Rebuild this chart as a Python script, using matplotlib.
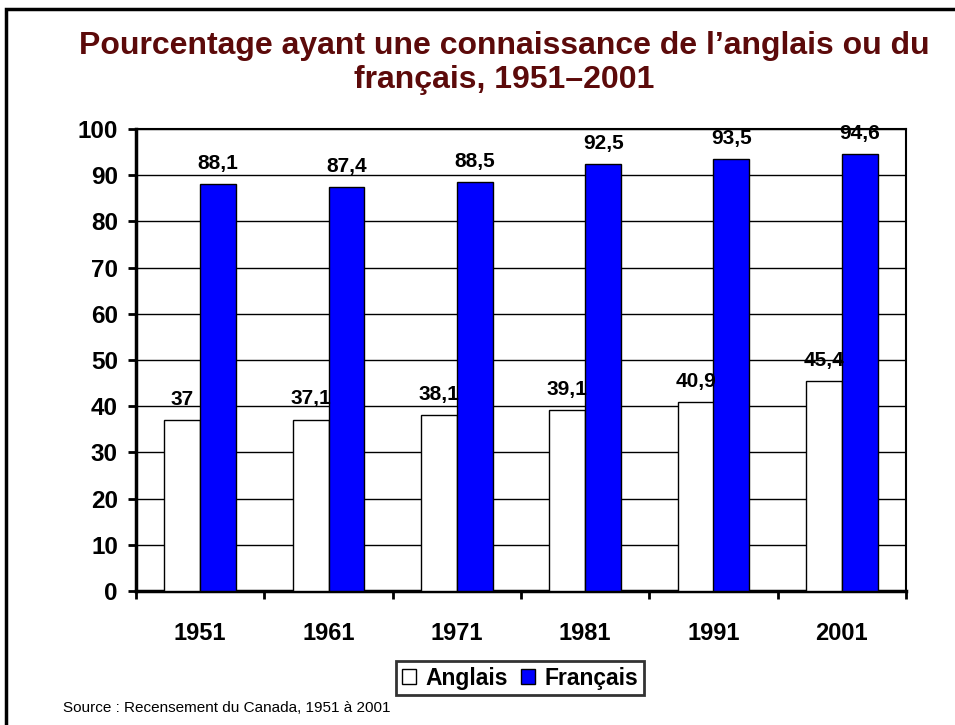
import matplotlib
matplotlib.use("Agg")
import matplotlib.pyplot as plt
import numpy as np
from matplotlib.patches import Rectangle

years = ["1951", "1961", "1971", "1981", "1991", "2001"]
anglais = [37, 37.1, 38.1, 39.1, 40.9, 45.4]
francais = [88.1, 87.4, 88.5, 92.5, 93.5, 94.6]
series_names = ["Anglais", "Français"]
yticks = [0, 10, 20, 30, 40, 50, 60, 70, 80, 90, 100]

def fmt(v):
    s = f"{v:g}"
    return s.replace(".", ",")

plt.rcParams['font.family'] = ['Liberation Sans', 'DejaVu Sans']

fig = plt.figure(figsize=(9.55, 7.25), dpi=100)
W, H = 955, 725
ax = fig.add_axes([136 / W, 1 - 591 / H, (906 - 136) / W, (591 - 129) / H])

x = np.arange(len(years))
bw = 0.28
b1 = ax.bar(x - bw / 2, anglais, bw, color="white", edgecolor="black", linewidth=1, label=series_names[0], zorder=3)
b2 = ax.bar(x + bw / 2, francais, bw, color="#0000FF", edgecolor="black", linewidth=1, label=series_names[1], zorder=3)

for bars, vals in ((b1, anglais), (b2, francais)):
    for r, v in zip(bars, vals):
        ax.annotate(fmt(v), (r.get_x() + r.get_width() / 2, v), xytext=(0, 8),
                    textcoords="offset points", ha="center", va="bottom",
                    fontsize=15, fontweight="bold", zorder=5, annotation_clip=False)

ax.set_xlim(-0.5, len(years) - 0.5)
ax.set_ylim(0, 100)
ax.set_yticks(yticks)
ax.set_yticklabels([str(t) for t in yticks], fontsize=17.5, fontweight="bold")
ax.yaxis.grid(True, color="black", linewidth=1, zorder=0)
ax.set_axisbelow(True)

ax.set_xticks(x)
ax.set_xticklabels(years, fontsize=17, fontweight="bold")
ax.tick_params(axis="x", length=0, pad=22)
ax.set_xticks(np.arange(-0.5, len(years)), minor=True)
ax.tick_params(axis="x", which="minor", length=6, width=2, direction="out")
ax.tick_params(axis="y", length=6, width=2, direction="out", pad=7)
for sp in ax.spines.values():
    sp.set_linewidth(1.5)
ax.spines["left"].set_linewidth(2.5)
ax.spines["bottom"].set_linewidth(2.5)

fig.text(504 / W, 1 - 63 / H, "Pourcentage ayant une connaissance de l’anglais ou du\nfrançais, 1951–2001",
         ha="center", va="center", fontsize=23, fontweight="bold", color="#5C0A0A", linespacing=1.15)

leg = fig.legend(handles=[b1, b2], labels=series_names, loc="center", bbox_to_anchor=(520 / W, 1 - 678 / H),
                 ncol=2, frameon=True, fancybox=False, prop={"size": 16.5, "weight": "bold"},
                 handlelength=0.6, handleheight=0.6, handletextpad=0.4, columnspacing=0.6,
                 borderpad=0.25, borderaxespad=0)
leg.get_frame().set_edgecolor("black")
leg.get_frame().set_linewidth(2)

fig.text(63 / W, 1 - 708 / H, "Source : Recensement du Canada, 1951 à 2001", ha="left", va="center", fontsize=11)

fig.patches.append(Rectangle((5.5 / W, -0.1), 1.2, (1 - 9.5 / H) + 0.1, transform=fig.transFigure,
                             fill=False, edgecolor="black", linewidth=2.5))

fig.savefig("out.png", dpi=100)
